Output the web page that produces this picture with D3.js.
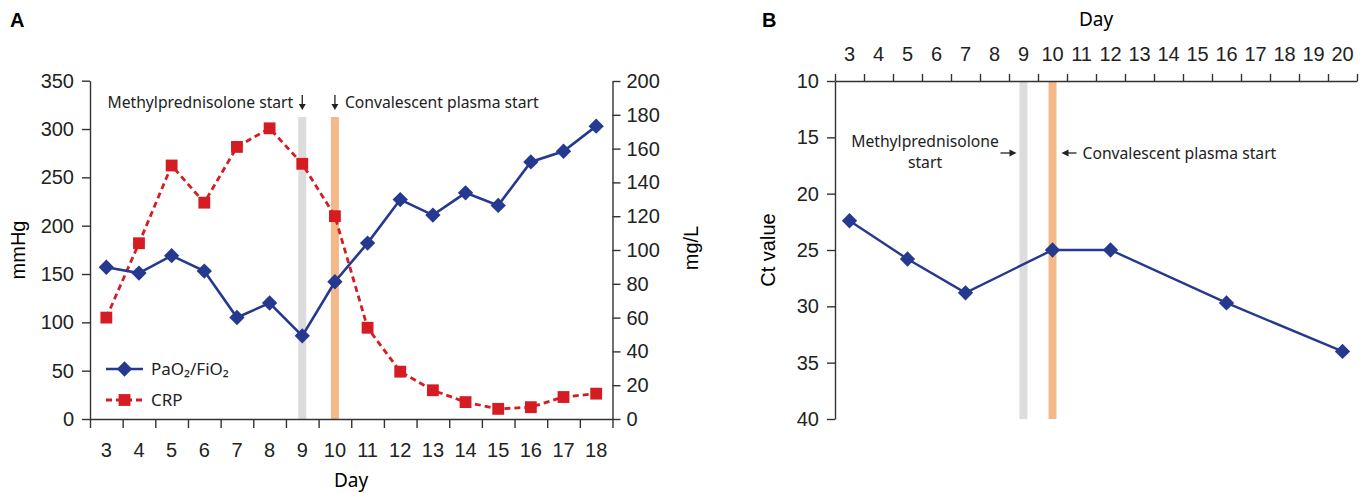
<!DOCTYPE html>
<html>
<head>
<meta charset="utf-8">
<script src="https://cdn.jsdelivr.net/npm/d3@7"></script>
<style>
  body { margin: 0; background: #fff; }
  svg { display: block; }
  .axis text { font-family: "Liberation Sans", Arial, sans-serif; font-size: 20px; fill: #222; }
  .axis path, .axis line { stroke: #333; stroke-width: 1.4; }
  .note { font-family: "Noto Sans", sans-serif; font-size: 15.7px; fill: #222; }
</style>
</head>
<body>
<div id="chart"></div>
<script>
// panel A data
const daysA = [3, 4, 5, 6, 7, 8, 9, 10, 11, 12, 13, 14, 15, 16, 17, 18];
const pafi = [157, 151, 169, 153, 105, 120, 86, 142, 182, 227, 211, 234, 221, 266, 277, 303];
const crp = [60, 104, 150, 128, 161, 172, 151, 120, 54, 28, 17, 10, 6, 7, 13, 15];
const leftTicksA = [0, 50, 100, 150, 200, 250, 300, 350];
const rightTicksA = [0, 20, 40, 60, 80, 100, 120, 140, 160, 180, 200];

// panel B data
const daysB = [3, 4, 5, 6, 7, 8, 9, 10, 11, 12, 13, 14, 15, 16, 17, 18, 19, 20];
const ctDays = [3, 5, 7, 10, 12, 16, 20];
const ctValues = [22.4, 25.8, 28.8, 25.0, 25.0, 29.7, 34.0];
const ctTicks = [10, 15, 20, 25, 30, 35, 40];

const steroidDay = 9;
const plasmaDay = 10;

const blue = '#25398e';
const red = '#d41c22';
const greyBar = '#dcdcdc';
const orangeBar = '#f5b888';

const svg = d3.select('#chart').append('svg')
    .attr('width', 1370)
    .attr('height', 493);

// diamond / square symbols
const diamond = d3.symbol().type(d3.symbolDiamond2).size(150);
const square = d3.symbol().type(d3.symbolSquare).size(140);

// ---------- Panel A ----------
const xA = d3.scaleBand().domain(daysA).range([90, 612.5]).padding(0);
const xAedge = d3.scaleLinear().domain([0, daysA.length]).range([90, 612.5]);
const yL = d3.scaleLinear().domain([0, 350]).range([419, 80.7]);
const yR = d3.scaleLinear().domain([0, 200]).range([419, 81]);

svg.append('text').attr('x', 10).attr('y', 27)
    .style('font-family', '"Liberation Sans", Arial, sans-serif')
    .style('font-weight', 'bold').style('font-size', '20px').text('A');

// treatment bars
svg.append('rect')
    .attr('x', xA(steroidDay) + xA.bandwidth() / 2 - 4).attr('width', 8)
    .attr('y', 117).attr('height', 419 - 117)
    .attr('fill', greyBar);
svg.append('rect')
    .attr('x', xA(plasmaDay) + xA.bandwidth() / 2 - 4).attr('width', 8)
    .attr('y', 117).attr('height', 419 - 117)
    .attr('fill', orangeBar);

// axes
const gA = svg.append('g');
gA.append('g').attr('class', 'axis').attr('transform', 'translate(90,0)')
    .call(d3.axisLeft(yL).tickValues(leftTicksA).tickSize(8).tickSizeOuter(0).tickPadding(8));
gA.append('g').attr('class', 'axis').attr('transform', 'translate(612.5,0)')
    .call(d3.axisRight(yR).tickValues(rightTicksA).tickSize(8).tickSizeOuter(0).tickPadding(6));
gA.append('g').attr('class', 'axis').attr('transform', 'translate(0,419)')
    .call(d3.axisBottom(xAedge).ticks(daysA.length).tickFormat('').tickSize(9).tickSizeOuter(0));
gA.append('g').attr('class', 'axis').attr('transform', 'translate(0,419)')
    .call(d3.axisBottom(xA).tickSize(0).tickPadding(24))
    .call(g => g.select('.domain').remove());

// axis titles
svg.append('text').attr('class', 'axis-title')
    .attr('transform', 'translate(25,250) rotate(-90)')
    .attr('text-anchor', 'middle')
    .style('font-family', '"Liberation Sans", Arial, sans-serif').style('font-size', '20px')
    .text('mmHg');
svg.append('text')
    .attr('transform', 'translate(698,248) rotate(-90)')
    .attr('text-anchor', 'middle')
    .style('font-family', '"Liberation Sans", Arial, sans-serif').style('font-size', '20px')
    .text('mg/L');
svg.append('text')
    .attr('x', 351).attr('y', 487)
    .attr('text-anchor', 'middle')
    .style('font-family', '"Noto Sans", sans-serif').style('font-size', '19px')
    .text('Day');

// lines
const lineCrp = d3.line()
    .x((d, i) => xA(daysA[i]) + xA.bandwidth() / 2)
    .y(d => yR(d));
const linePafi = d3.line()
    .x((d, i) => xA(daysA[i]) + xA.bandwidth() / 2)
    .y(d => yL(d));

svg.append('path').datum(crp)
    .attr('d', lineCrp)
    .attr('fill', 'none').attr('stroke', red)
    .attr('stroke-width', 2.8).attr('stroke-dasharray', '6,4');
svg.append('g').selectAll('path').data(crp).join('path')
    .attr('transform', (d, i) => `translate(${xA(daysA[i]) + xA.bandwidth() / 2},${yR(d)})`)
    .attr('d', square).attr('fill', red);

svg.append('path').datum(pafi)
    .attr('d', linePafi)
    .attr('fill', 'none').attr('stroke', blue).attr('stroke-width', 2.6);
svg.append('g').selectAll('path').data(pafi).join('path')
    .attr('transform', (d, i) => `translate(${xA(daysA[i]) + xA.bandwidth() / 2},${yL(d)})`)
    .attr('d', diamond).attr('fill', blue);

// arrowheads
function downArrow(x, y1, y2) {
    svg.append('line').attr('x1', x).attr('x2', x).attr('y1', y1).attr('y2', y2 - 4)
        .attr('stroke', '#222').attr('stroke-width', 1.3);
    svg.append('path').attr('d', `M${x - 3.5},${y2 - 6}L${x + 3.5},${y2 - 6}L${x},${y2}Z`).attr('fill', '#222');
}
function sideArrow(x1, x2, y) {
    const dir = x2 > x1 ? 1 : -1;
    svg.append('line').attr('x1', x1).attr('x2', x2 - dir * 4).attr('y1', y).attr('y2', y)
        .attr('stroke', '#222').attr('stroke-width', 1.3);
    svg.append('path').attr('d', `M${x2 - dir * 7},${y - 3.5}L${x2 - dir * 7},${y + 3.5}L${x2},${y}Z`).attr('fill', '#222');
}

const steroidX = xA(steroidDay) + xA.bandwidth() / 2;
const plasmaX = xA(plasmaDay) + xA.bandwidth() / 2;
svg.append('text').attr('class', 'note')
    .attr('x', steroidX - 9).attr('y', 108).attr('text-anchor', 'end')
    .text('Methylprednisolone start');
downArrow(steroidX, 95, 110);
downArrow(plasmaX, 95, 110);
svg.append('text').attr('class', 'note')
    .attr('x', plasmaX + 10).attr('y', 108)
    .text('Convalescent plasma start');

// legend
const legend = svg.append('g').attr('transform', 'translate(106,369)');
legend.append('line').attr('x1', 0).attr('x2', 37).attr('y1', 0).attr('y2', 0)
    .attr('stroke', blue).attr('stroke-width', 2.6);
legend.append('path').attr('transform', 'translate(18.5,0)').attr('d', diamond).attr('fill', blue);
legend.append('text').attr('class', 'note').attr('x', 45).attr('y', 6)
    .style('font-size', '17px').text('PaO₂/FiO₂');
legend.append('line').attr('x1', 0).attr('x2', 37).attr('y1', 31).attr('y2', 31)
    .attr('stroke', red).attr('stroke-width', 2.8).attr('stroke-dasharray', '6,4');
legend.append('path').attr('transform', 'translate(18.5,31)').attr('d', square).attr('fill', red);
legend.append('text').attr('class', 'note').attr('x', 45).attr('y', 37)
    .style('font-size', '17px').text('CRP');

// ---------- Panel B ----------
const xB = d3.scaleBand().domain(daysB).range([835, 1357]).padding(0);
const xBedge = d3.scaleLinear().domain([0, daysB.length]).range([835, 1357]);
const yB = d3.scaleLinear().domain([10, 40]).range([81, 419]);

svg.append('text').attr('x', 762).attr('y', 27)
    .style('font-family', '"Liberation Sans", Arial, sans-serif')
    .style('font-weight', 'bold').style('font-size', '20px').text('B');

svg.append('rect')
    .attr('x', xB(steroidDay) + xB.bandwidth() / 2 - 4).attr('width', 8)
    .attr('y', 81).attr('height', 419 - 81).attr('fill', greyBar);
svg.append('rect')
    .attr('x', xB(plasmaDay) + xB.bandwidth() / 2 - 4).attr('width', 8)
    .attr('y', 81).attr('height', 419 - 81).attr('fill', orangeBar);

svg.append('g').attr('class', 'axis').attr('transform', 'translate(835,0)')
    .call(d3.axisLeft(yB).tickValues(ctTicks).tickSize(8).tickSizeOuter(0).tickPadding(8));
svg.append('g').attr('class', 'axis').attr('transform', 'translate(0,81)')
    .call(d3.axisTop(xBedge).ticks(daysB.length).tickFormat('').tickSize(7).tickSizeOuter(0));
svg.append('g').attr('class', 'axis').attr('transform', 'translate(0,81)')
    .call(d3.axisTop(xB).tickSize(0).tickPadding(20))
    .call(g => g.select('.domain').remove());

svg.append('text')
    .attr('x', 1096).attr('y', 26).attr('text-anchor', 'middle')
    .style('font-family', '"Noto Sans", sans-serif').style('font-size', '19px')
    .text('Day');
svg.append('text')
    .attr('transform', 'translate(775,250) rotate(-90)')
    .attr('text-anchor', 'middle')
    .style('font-family', '"Liberation Sans", Arial, sans-serif').style('font-size', '20px')
    .text('Ct value');

const lineCt = d3.line()
    .x((d, i) => xB(ctDays[i]) + xB.bandwidth() / 2)
    .y(d => yB(d));
svg.append('path').datum(ctValues)
    .attr('d', lineCt)
    .attr('fill', 'none').attr('stroke', blue).attr('stroke-width', 2.4);
svg.append('g').selectAll('path').data(ctValues).join('path')
    .attr('transform', (d, i) => `translate(${xB(ctDays[i]) + xB.bandwidth() / 2},${yB(d)})`)
    .attr('d', diamond).attr('fill', blue);

const steroidXB = xB(steroidDay) + xB.bandwidth() / 2;
const plasmaXB = xB(plasmaDay) + xB.bandwidth() / 2;
svg.append('text').attr('class', 'note')
    .attr('x', 925).attr('y', 147).attr('text-anchor', 'middle')
    .text('Methylprednisolone');
svg.append('text').attr('class', 'note')
    .attr('x', 925).attr('y', 168).attr('text-anchor', 'middle')
    .text('start');
sideArrow(steroidXB - 23, steroidXB - 7, 153);
sideArrow(plasmaXB + 24, plasmaXB + 9, 153);
svg.append('text').attr('class', 'note')
    .attr('x', plasmaXB + 30).attr('y', 159)
    .text('Convalescent plasma start');
</script>
</body>
</html>
